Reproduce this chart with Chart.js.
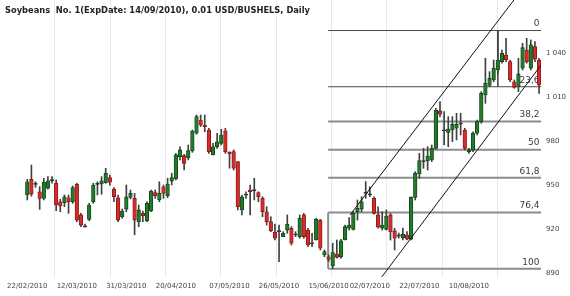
<!DOCTYPE html>
<html><head><meta charset="utf-8">
<script src="https://cdn.jsdelivr.net/npm/chart.js@4.4.0/dist/chart.umd.min.js"></script>
<style>
html,body{margin:0;padding:0;background:#fff;}
#wrap{position:relative;width:570px;height:296px;}
#title{position:absolute;left:5px;top:5px;font:bold 8.3px "DejaVu Sans";line-height:11px;color:#222;white-space:pre;}
</style></head><body>
<div id="wrap"><canvas id="c" width="570" height="296"></canvas><div id="title">Soybeans  No. 1(ExpDate: 14/09/2010), 0.01 USD/BUSHELS, Daily</div></div>
<script>
// Daily candles, bar index 0..124
const opens = [943.4,954.1,950.6,945.6,941.1,948.0,953.0,951.4,938.8,938.1,941.5,938.8,950.7,929.8,922.0,926.8,938.8,950.6,950.9,951.8,
955.2,947.5,941.5,928.6,933.8,941.8,941.1,925.2,930.9,925.7,932.5,945.0,940.0,949.0,942.9,952.9,954.3,969.5,970.2,968.8,
973.4,985.5,994.5,990.5,987.7,970.7,976.3,978.6,987.2,972.5,972.9,966.1,933.2,943.2,946.8,946.2,945.0,941.1,932.0,925.2,
918.0,918.6,915.0,919.5,920.7,916.2,915.0,929.8,919.5,910.1,912.7,926.3,902.5,901.3,895.2,903.2,901.3,912.7,920.7,920.0,
932.0,933.8,944.4,943.5,941.1,929.8,920.7,920.0,929.8,918.9,915.5,914.3,916.1,913.2,941.8,957.7,966.0,966.8,967.3,975.2,
1000.7,987.1,986.1,987.7,988.9,991.6,987.7,972.9,974.1,985.5,993.4,1011.6,1018.0,1021.8,1028.6,1034.3,1038.8,1034.3,1020.6,1017.2,
1029.8,1042.2,1029.8,1044.5,1035.4];
const highs = [954.1,963.8,952.4,949.1,954.8,955.9,955.9,953.6,940.5,943.4,943.4,949.5,951.4,930.9,923.6,937.7,951.4,952.4,955.9,961.6,
957.0,948.4,943.4,933.8,950.2,946.8,944.5,936.6,932.5,938.8,946.8,946.8,952.4,950.2,954.8,958.2,971.8,976.3,971.1,977.5,
987.7,997.9,997.9,997.9,988.8,978.6,985.5,988.2,988.8,972.9,974.1,966.1,943.4,945.6,950.2,954.8,945.6,942.2,935.4,928.6,
923.6,922.9,918.4,929.8,921.8,918.4,929.8,930.9,920.7,917.3,927.5,926.8,905.9,902.5,910.5,912.7,913.2,922.9,928.0,932.0,
940.0,942.2,952.5,949.0,942.2,935.4,932.0,933.2,930.9,920.7,917.5,920.9,918.4,942.2,959.3,971.8,975.2,976.3,977.5,1002.5,
1007.0,1000.2,996.8,996.8,999.1,999.1,988.9,975.2,986.5,994.5,1013.8,1036.6,1027.5,1035.4,1055.5,1042.2,1050.2,1035.4,1021.8,1036.6,
1046.8,1050.2,1049.1,1047.9,1036.6];
const lows = [940.0,942.6,948.6,933.6,940.0,947.3,951.4,932.7,932.0,935.4,930.9,937.7,925.2,921.8,921.4,925.9,937.7,943.4,943.9,951.4,
950.0,938.8,925.2,927.5,932.0,940.7,916.3,921.8,925.2,925.2,932.0,941.1,938.8,941.1,941.5,950.2,953.6,967.3,960.4,967.3,
972.5,984.8,990.0,986.5,971.8,970.7,975.2,977.5,971.8,961.6,960.4,933.2,929.8,941.1,929.8,940.0,938.8,928.6,922.9,918.4,
912.7,897.9,915.0,917.3,909.3,915.0,913.9,913.9,908.2,908.2,912.7,905.9,901.3,898.0,893.1,900.4,900.2,912.7,919.5,919.5,
926.3,932.0,941.1,942.2,930.4,920.7,919.5,919.5,912.7,905.9,914.0,912.7,912.7,912.7,940.0,954.8,961.6,960.4,966.1,974.7,
996.8,977.5,976.3,979.7,980.9,984.3,974.1,971.8,972.9,984.3,992.3,1005.9,1017.2,1020.6,1026.0,1033.2,1034.3,1020.6,1016.1,1013.8,
1028.6,1033.2,1028.6,1034.3,1012.7];
const closes = [952.4,943.9,950.8,941.1,952.0,953.0,953.2,936.6,935.9,942.2,938.8,948.4,926.3,922.9,921.6,936.6,950.2,950.8,953.1,958.2,
952.1,942.2,926.3,932.5,942.2,944.5,926.3,933.2,929.3,937.7,946.1,942.9,944.5,944.5,950.9,955.2,970.7,974.1,965.0,973.6,
987.0,996.8,991.1,990.0,972.9,976.3,979.7,984.3,972.9,971.4,961.6,935.4,942.2,943.4,945.6,946.4,942.2,932.0,925.2,919.0,
913.9,918.4,917.3,923.6,910.5,916.1,927.5,915.0,909.3,910.0,926.8,907.1,904.8,899.5,904.1,900.9,912.2,921.8,922.9,930.9,
934.3,938.8,944.6,943.4,930.9,921.4,922.9,929.1,918.2,913.9,915.4,916.6,913.2,941.8,958.2,966.8,966.2,970.0,975.2,1001.3,
998.4,987.0,988.4,991.6,991.6,991.8,975.2,974.1,985.5,993.4,1012.7,1019.5,1023.0,1029.8,1035.4,1040.0,1035.4,1021.8,1016.8,1025.9,
1043.8,1034.3,1045.7,1035.9,1018.4];

// Date tick labels and the bar they refer to
const dateLabels = ['22/02/2010','12/03/2010','31/03/2010','20/04/2010','07/05/2010','26/05/2010','15/06/2010','02/07/2010','22/07/2010','10/08/2010'];
const dateLabelBars = [0,12,24,36,49,61,73,83,95,107];
const priceTicks = [890,920,950,980,1010,1040];

// Fibonacci retracement (low -> high) and trend channel
const fibLevels = [0,23.6,38.2,50,61.8,76.4,100];
const fibLow = 893.1, fibHigh = 1055.5;
const fibLowBar = 72.9, fibHighBar = 114;
const channelUpper = [{x:78.2,y:929.8},{x:122,y:1091.4}];
const channelLower = [{x:85.7,y:886.8},{x:124.5,y:1032}];

const X_MIN = -6.61, X_MAX = 124.47;
const n = opens.length;
const idx = Array.from({length:n},(_,i)=>i);
const bodyData = idx.map(i=>({x:i,y:[Math.min(opens[i],closes[i]),Math.max(opens[i],closes[i])]}));
const wickData = idx.map(i=>({x:i,y:[lows[i],highs[i]]}));
const GREEN='#237a2c', GREEN_B='#0f3f14', RED='#d62b2b', RED_B='#7e1616', DOJI='#333333';
const bodyFill = idx.map(i=>Math.abs(closes[i]-opens[i])<0.5?DOJI:(closes[i]>opens[i]?GREEN:RED));
const bodyBorder = idx.map(i=>Math.abs(closes[i]-opens[i])<0.5?DOJI:(closes[i]>opens[i]?GREEN_B:RED_B));

const fibValue = l => fibHigh - l/100*(fibHigh-fibLow);
const fibDatasets = fibLevels.map((l,k)=>({
  type:'line', data:[{x:fibLowBar,y:fibValue(l)},{x:X_MAX,y:fibValue(l)}],
  borderColor: k<2?'#4a4a4a':'#8c8c8c', borderWidth: k<2?1:2,
  pointRadius:0, fill:false, tension:0, order:10
}));
// vertical fib anchor segments
fibDatasets.push({type:'line',data:[{x:fibHighBar,y:fibValue(0)},{x:fibHighBar,y:fibValue(23.6)}],borderColor:'#4a4a4a',borderWidth:1,pointRadius:0,order:10});
fibDatasets.push({type:'line',data:[{x:fibLowBar,y:fibValue(100)},{x:fibLowBar,y:fibValue(76.4)}],borderColor:'#8c8c8c',borderWidth:2,pointRadius:0,order:10});

const fibLabelPlugin = {
  id:'fibLabels',
  beforeDatasetsDraw(chart){
    const {ctx, scales:{x,y}} = chart;
    ctx.save();
    ctx.font = '9px "DejaVu Sans"';
    ctx.fillStyle = '#3a3a3a';
    ctx.textAlign = 'right';
    ctx.textBaseline = 'bottom';
    const xr = x.getPixelForValue(X_MAX) - 1.5;
    fibLevels.forEach(l=>{
      ctx.fillText(String(l).replace('.',','), xr, y.getPixelForValue(fibValue(l)) - 2);
    });
    ctx.restore();
  }
};

const zeroPad = s => { s.paddingLeft=0; s.paddingRight=0; s.paddingTop=0; s.paddingBottom=0; };

new Chart(document.getElementById('c'), {
  type:'bar',
  data:{ datasets:[
    ...fibDatasets,
    {type:'bar', data:wickData, backgroundColor:'#404040', barThickness:1, grouped:false, order:5},
    {type:'bar', data:bodyData, backgroundColor:bodyFill, borderColor:bodyBorder, borderWidth:0.8, borderSkipped:false, barThickness:3.6, minBarLength:1.2, grouped:false, order:4},
    {type:'line', data:channelUpper, borderColor:'#111', borderWidth:1, pointRadius:0, fill:false, order:1},
    {type:'line', data:channelLower, borderColor:'#111', borderWidth:1, pointRadius:0, fill:false, order:1}
  ]},
  options:{
    responsive:false, devicePixelRatio:1, animation:false,
    layout:{padding:0},
    plugins:{legend:{display:false}, tooltip:{enabled:false}, title:{display:false}},
    scales:{
      x:{ type:'linear', min:X_MIN, max:X_MAX, offset:false, position:'bottom',
        grid:{display:false, drawTicks:false, tickLength:0}, border:{display:false},
        afterBuildTicks: s => { s.ticks = dateLabelBars.map(v=>({value:v})); },
        ticks:{ autoSkip:false, maxRotation:0, padding:5, color:'#444', font:{family:'DejaVu Sans', size:7},
          callback:(v,k)=>dateLabels[k] },
        afterFit: s => { s.height = 19; zeroPad(s); }
      },
      xg:{ type:'linear', axis:'x', min:X_MIN, max:X_MAX, offset:false, position:'bottom',
        grid:{display:true, color:'#e2eaf0', lineWidth:1, drawTicks:false}, border:{display:false},
        afterBuildTicks: s => { const t=[]; for(let k=0;k<10;k++) t.push({value:k*13.4}); s.ticks=t; },
        ticks:{display:false},
        afterFit: s => { s.height = 0; zeroPad(s); }
      },
      y:{ type:'linear', position:'right', min:887.5, max:1076.3,
        grid:{display:false, drawTicks:false, tickLength:0}, border:{display:false},
        afterBuildTicks: s => { s.ticks = priceTicks.map(v=>({value:v})); },
        ticks:{ padding:5, color:'#444', font:{family:'DejaVu Sans', size:7},
          callback: v => v>=1000 ? String(v).replace(/(\d)(\d{3})$/,'$1 $2') : String(v) },
        afterFit: s => { s.width = 29; zeroPad(s); }
      }
    }
  },
  plugins:[fibLabelPlugin]
});
</script>
</body></html>
